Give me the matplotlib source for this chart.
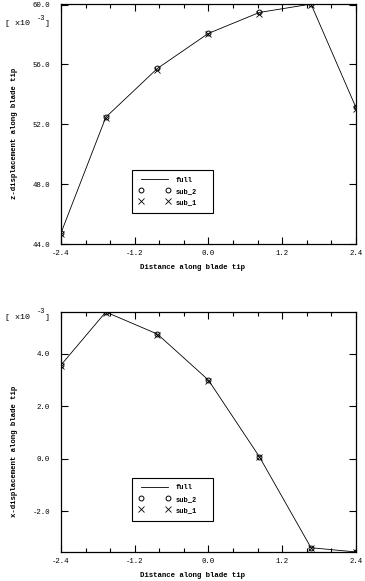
import numpy as np
import matplotlib
matplotlib.use("Agg")
import matplotlib.pyplot as plt
from matplotlib.ticker import MultipleLocator

# distance along blade tip
x = [-2.4, -1.67, -0.83, 0.0, 0.83, 1.67, 2.4]

# top panel (x1e-3)
top_full = [44.73, 52.47, 55.73, 58.07, 59.47, 60.03, 53.13]
top_sub2 = [44.73, 52.47, 55.73, 58.07, 59.47, 60.03, 53.13]
top_sub1 = [44.65, 52.40, 55.65, 58.00, 59.35, 60.00, 53.05]

# bottom panel (x1e-3)
bot_full = [3.57, 5.59, 4.75, 3.00, 0.08, -3.38, -3.54]
bot_sub2 = [3.57, 5.59, 4.75, 3.00, 0.08, -3.38, -3.54]
bot_sub1 = [3.55, 5.57, 4.73, 2.98, 0.06, -3.40, -3.54]

xticks = [-2.4, -1.2, 0.0, 1.2, 2.4]
top_yticks = [44.0, 48.0, 52.0, 56.0, 60.0]
bot_yticks = [-2.0, 0.0, 2.0, 4.0]

plt.rcParams['font.family'] = ['Liberation Mono', 'DejaVu Sans']
fs = 5.3

fig = plt.figure(figsize=(3.65, 5.81), dpi=100)

def panel(rect, full, sub2, sub1, yticks, ylim, ylabel, ylab_y):
    ax = fig.add_axes(rect)
    ax.plot(x, full, color='black', lw=0.6, label='full')
    ax.plot(x, sub2, ls='none', marker='o', ms=3.5, mfc='none', mec='black', mew=0.7, label='sub_2')
    ax.plot(x, sub1, ls='none', marker='x', ms=4, color='black', mew=0.6, label='sub_1')
    ax.set_xlim(-2.4, 2.4)
    ax.set_ylim(*ylim)
    ax.set_xticks(xticks)
    ax.set_xticklabels(['%.1f' % v for v in xticks])
    ax.xaxis.set_minor_locator(MultipleLocator(0.4))
    ax.set_yticks(yticks)
    ax.set_yticklabels(['%.1f' % v for v in yticks])
    ax.tick_params(which='both', direction='in', top=True, right=True,
                   labelsize=fs, width=0.8)
    ax.tick_params(which='major', length=5)
    ax.tick_params(which='minor', length=3)
    ax.tick_params(axis='x', which='major', pad=4.5)
    ax.tick_params(axis='y', which='major', pad=8)
    for s in ax.spines.values():
        s.set_linewidth(0.9)
    ax.set_xlabel('Distance along blade tip', fontsize=5.3, fontweight='bold')
    ax.xaxis.set_label_coords(0.447, -0.085)
    ax.set_ylabel(ylabel, fontsize=5.3, fontweight='bold')
    ax.yaxis.set_label_coords(-0.147, ylab_y)
    leg = ax.legend(loc='lower left', bbox_to_anchor=(0.24, 0.13, 0.275, 0.18),
                    mode='expand', numpoints=2, fancybox=False,
                    framealpha=1, edgecolor='black', handlelength=4.5,
                    borderaxespad=0, borderpad=1.0, labelspacing=0.6,
                    prop={'weight': 'bold', 'size': 5})
    leg.get_frame().set_linewidth(0.8)
    return ax

ax1 = panel([0.167, 0.580, 0.808, 0.413], top_full, top_sub2, top_sub1,
            top_yticks, (44.0, 60.03), 'z-displacement along blade tip', 0.46)
ax2 = panel([0.167, 0.050, 0.808, 0.413], bot_full, bot_sub2, bot_sub1,
            bot_yticks, (-3.54, 5.59), 'x-displacement along blade tip', 0.42)

for yb in (0.959, 0.454):
    fig.text(0.014, yb, '[ x10', fontsize=6, va='center')
    fig.text(0.101, yb + 0.010, '-3', fontsize=5, va='center')
    fig.text(0.124, yb, ']', fontsize=6, va='center')

fig.savefig('out.png', dpi=100)
